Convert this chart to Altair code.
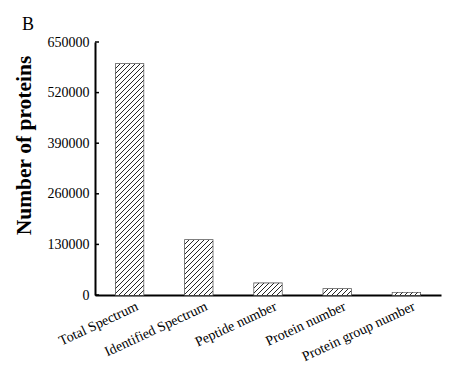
import math
import altair as alt
import pandas as pd

categories = ["Total Spectrum", "Identified Spectrum", "Peptide number",
              "Protein number", "Protein group number"]
values = [593500, 141300, 30000, 15400, 6000]
y_ticks = [0, 130000, 260000, 390000, 520000, 650000]

W, H = 346, 253
YMAX = 650000
N_CAT = len(categories)
PAD_IN, PAD_OUT = 0.6, 0.3
step = W / (N_CAT - PAD_IN + 2 * PAD_OUT)
bar_w = step * (1 - PAD_IN)
px_per_unit = H / YMAX

SERIF = "Liberation Serif"
df = pd.DataFrame({"category": categories, "value": values})

x_scale = alt.Scale(domain=categories, paddingInner=PAD_IN, paddingOuter=PAD_OUT)
y_scale = alt.Scale(domain=[0, YMAX], nice=False)

x_enc = alt.X("category:N", sort=categories, scale=x_scale,
              axis=alt.Axis(title=None, labelAngle=-25, labelAlign="right", labelBaseline="top",
                            labelOffset=5, labelPadding=4, ticks=False, tickSize=0,
                            labelFont=SERIF, labelFontSize=14, labelColor="black",
                            domainColor="black", domainWidth=2.2))
y_enc = alt.Y("value:Q", scale=y_scale,
              axis=alt.Axis(title="Number of proteins", values=y_ticks, format="d",
                            ticks=False, tickSize=0, labelPadding=6, grid=False,
                            labelFont=SERIF, labelFontSize=14, labelColor="black",
                            domainColor="black", domainWidth=2,
                            titleFont=SERIF, titleFontSize=21.5, titleFontWeight="bold",
                            titleColor="black", titleX=-65, titleY=103,
                            titleBaseline="alphabetic"))

# hatch style: 45-degree lines, 5 px apart vertically, 1 px diagonal thickness
PERIOD = 5.0      # in (x + y) pixel units
DARK_W = 1.0      # dark part, same units
LINE = "#262626"
PIECE_PX = 28


def piece_gradient(y_top, hp):
    """Gradient for a rect of width bar_w and height hp whose top is y_top px
    below the bar top; stripes stay continuous across pieces."""
    span = bar_w + hp
    s0, s1 = y_top, y_top + span
    intervals = []
    k = math.floor(s0 / PERIOD) - 1
    while k * PERIOD < s1:
        a0, a1 = k * PERIOD, (k + 1) * PERIOD - DARK_W
        b0, b1 = a1, (k + 1) * PERIOD
        for lo, hi, col in ((a0, a1, "white"), (b0, b1, LINE)):
            lo_c, hi_c = max(lo, s0), min(hi, s1)
            if hi_c > lo_c:
                intervals.append(((lo_c - s0) / span, (hi_c - s0) / span, col))
        k += 1
    stops = []
    for lo, hi, col in intervals:
        stops.append(alt.GradientStop(offset=round(lo, 5), color=col))
        stops.append(alt.GradientStop(offset=round(hi, 5), color=col))
    r = bar_w / hp
    c = (r + 1) / (r * r + 1)
    return alt.Gradient(gradient="linear", x1=0, y1=0, x2=c * r, y2=c, stops=stops)


layers = []
overlap = 1.0 / px_per_unit  # one pixel, in data units
for cat, val in zip(categories, values):
    h = val * px_per_unit
    m = max(1, math.ceil(h / PIECE_PX))
    for j in range(m):
        lo = val * j / m
        hi = min(val, val * (j + 1) / m + overlap)
        hp = (hi - lo) * px_per_unit
        y_top = (val - hi) * px_per_unit
        piece = pd.DataFrame({"category": [cat], "lo": [lo], "hi": [hi]})
        layers.append(
            alt.Chart(piece).mark_bar(fill=piece_gradient(y_top, hp), strokeWidth=0)
            .encode(x=alt.X("category:N", sort=categories, scale=x_scale),
                    y=alt.Y("lo:Q", scale=y_scale), y2="hi:Q")
        )

outline = alt.Chart(df).mark_bar(fillOpacity=0, stroke="#555555", strokeWidth=1.5).encode(
    x=x_enc, y=y_enc)

ticks_df = pd.DataFrame({"t": y_ticks})
inner_ticks = alt.Chart(ticks_df).mark_rule(color="black", strokeWidth=1.5).encode(
    y=alt.Y("t:Q", scale=y_scale), x=alt.value(0), x2=alt.value(4))

label_b = alt.Chart(pd.DataFrame({"t": ["B"]})).mark_text(
    font=SERIF, fontSize=18, align="left", baseline="alphabetic", color="black"
).encode(text="t:N", x=alt.value(-73), y=alt.value(-12))

chart = alt.layer(outline, *layers, inner_ticks, label_b).properties(
    width=W, height=H,
    background="white",
    autosize=alt.AutoSizeParams(type="none"),
    padding={"left": 95, "top": 42, "right": 20, "bottom": 81},
).configure_view(strokeWidth=0)

chart.save("out.html", embed_options={"renderer": "svg", "actions": False})
